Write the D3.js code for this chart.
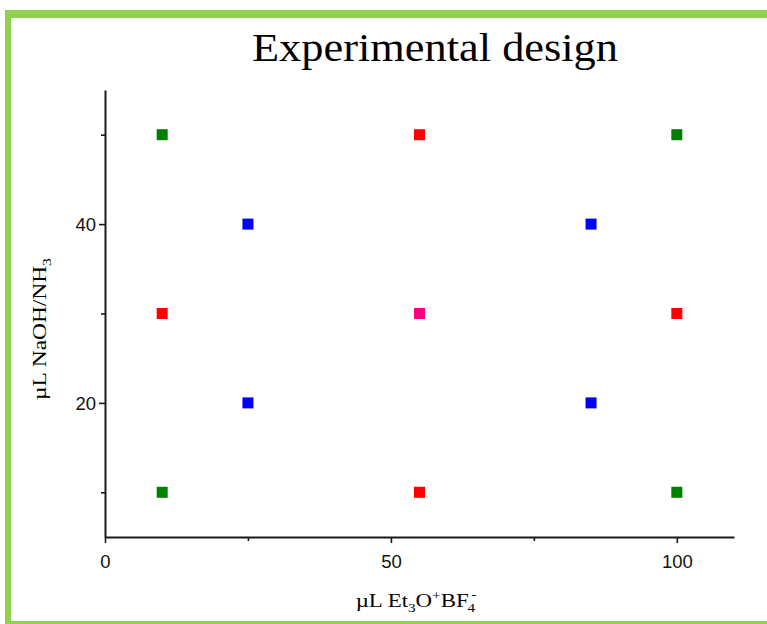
<!DOCTYPE html>
<html>
<head>
<meta charset="utf-8">
<script src="https://cdn.jsdelivr.net/npm/d3@7"></script>
<style>
  html, body { margin: 0; padding: 0; background: #fff; }
  svg { display: block; }
</style>
</head>
<body>
<svg id="chart" width="767" height="624"></svg>
<script>
// Design points: Et3O+BF4- volume (x) vs NaOH/NH3 volume (y)
const xValues = [10, 55, 100, 25, 85, 10, 55, 100, 25, 85, 10, 55, 100];
const yValues = [50, 50, 50, 40, 40, 30, 30, 30, 20, 20, 10, 10, 10];
const pointGroup = ["corner", "edge", "corner", "inner", "inner", "edge", "center", "edge", "inner", "inner", "corner", "edge", "corner"];
const groupColors = { corner: "#008000", edge: "#ff0000", inner: "#0000ff", center: "#ff0080" };
const xTickValues = [0, 50, 100];
const xMinorTicks = [25, 75];
const yTickValues = [20, 40];
const yMinorTicks = [10, 30, 50];

const svg = d3.select("#chart");

// frame
const frameColor = "#92d050";
svg.append("rect").attr("x", 5).attr("y", 10).attr("width", 780).attr("height", 8).attr("fill", frameColor);
svg.append("rect").attr("x", 5).attr("y", 10).attr("width", 6).attr("height", 614).attr("fill", frameColor);
svg.append("rect").attr("x", 5).attr("y", 621).attr("width", 780).attr("height", 4).attr("fill", frameColor);

const x = d3.scaleLinear().domain([0, 110]).range([105, 734]);
const y = d3.scaleLinear().domain([5, 55]).range([537, 90]);

const axisColor = "#1a1a1a";
const tickFont = "Liberation Sans, Arial, sans-serif";

// x axis
const gx = svg.append("g").attr("transform", `translate(0,${y(5)})`)
  .call(d3.axisBottom(x).tickValues(xTickValues).tickSize(6).tickSizeOuter(0).tickFormat(d3.format("d")));
svg.append("g").attr("transform", `translate(0,${y(5)})`)
  .call(d3.axisBottom(x).tickValues(xMinorTicks).tickSize(4).tickSizeOuter(0).tickFormat(""))
  .select(".domain").remove();

// y axis
const gy = svg.append("g").attr("transform", `translate(${x(0)},0)`)
  .call(d3.axisLeft(y).tickValues(yTickValues).tickSize(6).tickSizeOuter(0).tickFormat(d3.format("d")));
svg.append("g").attr("transform", `translate(${x(0)},0)`)
  .call(d3.axisLeft(y).tickValues(yMinorTicks).tickSize(4).tickSizeOuter(0).tickFormat(""))
  .select(".domain").remove();

svg.selectAll(".domain").attr("stroke", axisColor).attr("stroke-width", 2);
svg.selectAll(".tick line").attr("stroke", axisColor).attr("stroke-width", 1.6);
svg.selectAll(".tick text").attr("font-family", tickFont).attr("font-size", 18.5).attr("fill", "#111");
gx.selectAll(".tick text").attr("y", 0).attr("dy", 31);
gy.selectAll(".tick text").attr("x", -9).attr("dy", "0.34em");

// points
const sz = 11;
svg.append("g").selectAll("rect")
  .data(xValues.map((v, i) => ({ x: v, y: yValues[i], g: pointGroup[i] })))
  .join("rect")
  .attr("x", d => x(d.x) - sz / 2)
  .attr("y", d => y(d.y) - sz / 2)
  .attr("width", sz).attr("height", sz)
  .attr("fill", d => groupColors[d.g]);

// title
const serif = "Liberation Serif, Times New Roman, serif";
svg.append("text").attr("x", 435).attr("y", 61).attr("text-anchor", "middle")
  .attr("font-family", serif).attr("font-size", 41).attr("fill", "#000")
  .attr("textLength", 366).attr("lengthAdjust", "spacingAndGlyphs")
  .text("Experimental design");

// x axis label (slightly widened serif)
const xlg = svg.append("g").attr("transform", "translate(416,607) scale(1.27,1)");
const xl = xlg.append("text").attr("x", 0).attr("y", 0).attr("text-anchor", "middle")
  .attr("font-family", serif).attr("font-size", 18).attr("fill", "#000");
xl.append("tspan").text("µL Et");
xl.append("tspan").attr("font-size", 12).attr("dy", 5).text("3");
xl.append("tspan").attr("dy", -5).text("O");
xl.append("tspan").attr("font-size", 12).attr("dy", -7).text("+");
xl.append("tspan").attr("dy", 7).text("BF");
xl.append("tspan").attr("font-size", 12).attr("dy", 5).attr("dx", -1).text("4");
xl.append("tspan").attr("font-size", 12).attr("dx", -3).attr("dy", -13).text("-");

// y axis label
const ylg = svg.append("g").attr("transform", "translate(46,329) rotate(-90) scale(1.3,1)");
const yl = ylg.append("text").attr("text-anchor", "middle")
  .attr("font-family", serif).attr("font-size", 18).attr("fill", "#000");
yl.append("tspan").text("µL NaOH/NH");
yl.append("tspan").attr("font-size", 12).attr("dy", 5).text("3");
</script>
</body>
</html>
